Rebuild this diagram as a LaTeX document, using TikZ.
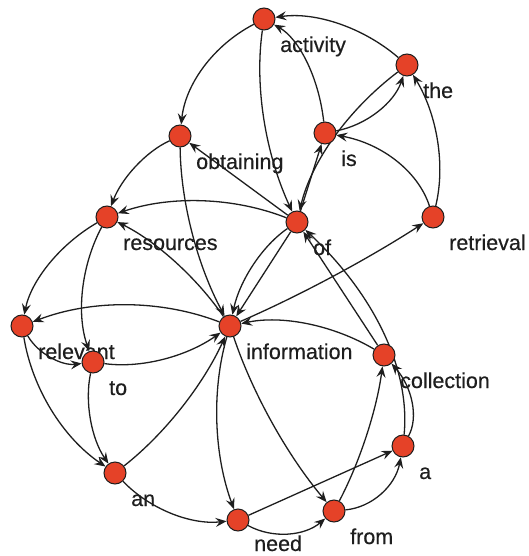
\documentclass[tikz,border=0pt]{standalone}
\usepackage{fontspec}
\setmainfont{Liberation Sans}[FakeBold=0.4]
\usetikzlibrary{arrows.meta,calc,backgrounds}
\definecolor{vred}{RGB}{229,66,40}
\definecolor{ink}{RGB}{30,30,30}
\tikzset{
 vtx/.style={circle,fill=vred,draw=ink,line width=1pt,minimum size=22pt,inner sep=0pt},
 lab/.style={anchor=base west,inner sep=0pt,text=ink,font=\fontsize{21.5}{22}\selectfont},
 edge/.style={draw=ink,line width=1.3pt,-{Stealth[length=11pt,width=9pt,inset=4pt]}},
}
\newcommand\qe[3]{\draw[edge] (#1) .. controls ($(#1)!2/3!(#2)$) and ($(#3)!2/3!(#2)$) .. (#3);}
\newcommand\wn[4]{\node[vtx] (#1) at (#2) {}; \node[lab] (#1-l) at ($(#1)+(16,#4)$) {#3};}
\begin{document}
\begin{tikzpicture}[x=1pt,y=-1pt]
\useasboundingbox (0,0) rectangle (528,556);
\wn{act}{264,19}{activity}{33}
\wn{the}{407,65}{the}{33}
\wn{obt}{180,136}{obtaining}{33}
\wn{is}{325,133}{is}{33}
\wn{res}{107,217}{resources}{33}
\wn{of}{297,222}{of}{33}
\wn{ret}{433,217}{retrieval}{33}
\wn{rel}{22,326}{relevant}{33}
\wn{inf}{230,326}{information}{33}
\wn{to}{93,362}{to}{33}
\wn{col}{384,355}{collection}{33}
\wn{a}{403,446}{a}{33}
\wn{an}{115,473}{an}{33}
\wn{need}{238,520}{need}{31}
\wn{from}{334,511}{from}{33}
\begin{scope}[on background layer]
\qe{act}{188,58.5}{obt}
\qe{the}{340.5,8}{act}
\qe{is}{315.5,48}{act}
\qe{act}{249.5,119.5}{of}
\qe{is}{388,121}{the}
\qe{the}{318,132.5}{of}
\draw[edge] (of) -- (is);
\qe{ret}{411,149}{is}
\qe{ret}{452,139}{the}
\draw[edge] (of) -- (obt);
\qe{obt}{181,235}{inf}
\qe{obt}{128.5,159.5}{res}
\qe{of}{202,184.5}{res}
\qe{inf}{179.5,252.5}{res}
\qe{res}{35.5,258.5}{rel}
\qe{res}{68,290.5}{to}
\qe{inf}{126,286}{rel}
\qe{rel}{46.5,368}{to}
\qe{to}{164.5,372}{inf}
\qe{to}{80,422.5}{an}
\qe{rel}{37.5,420.5}{an}
\qe{an}{189.5,414.5}{inf}
\qe{an}{167.5,527.5}{need}
\qe{inf}{202,423}{need}
\qe{inf}{264,427.5}{from}
\qe{need}{290,548.5}{from}
\draw[edge] (need) -- (a);
\qe{from}{391.5,505.5}{a}
\qe{from}{373,437}{col}
\qe{a}{426.5,403.5}{col}
\qe{a}{414,332}{of}
\draw[edge] (col) -- (of);
\qe{col}{307,309.5}{inf}
\qe{of}{244.5,258}{inf}
\draw[edge] (of) -- (inf);
\qe{inf}{334.5,280.5}{ret}
\end{scope}
\end{tikzpicture}
\end{document}
